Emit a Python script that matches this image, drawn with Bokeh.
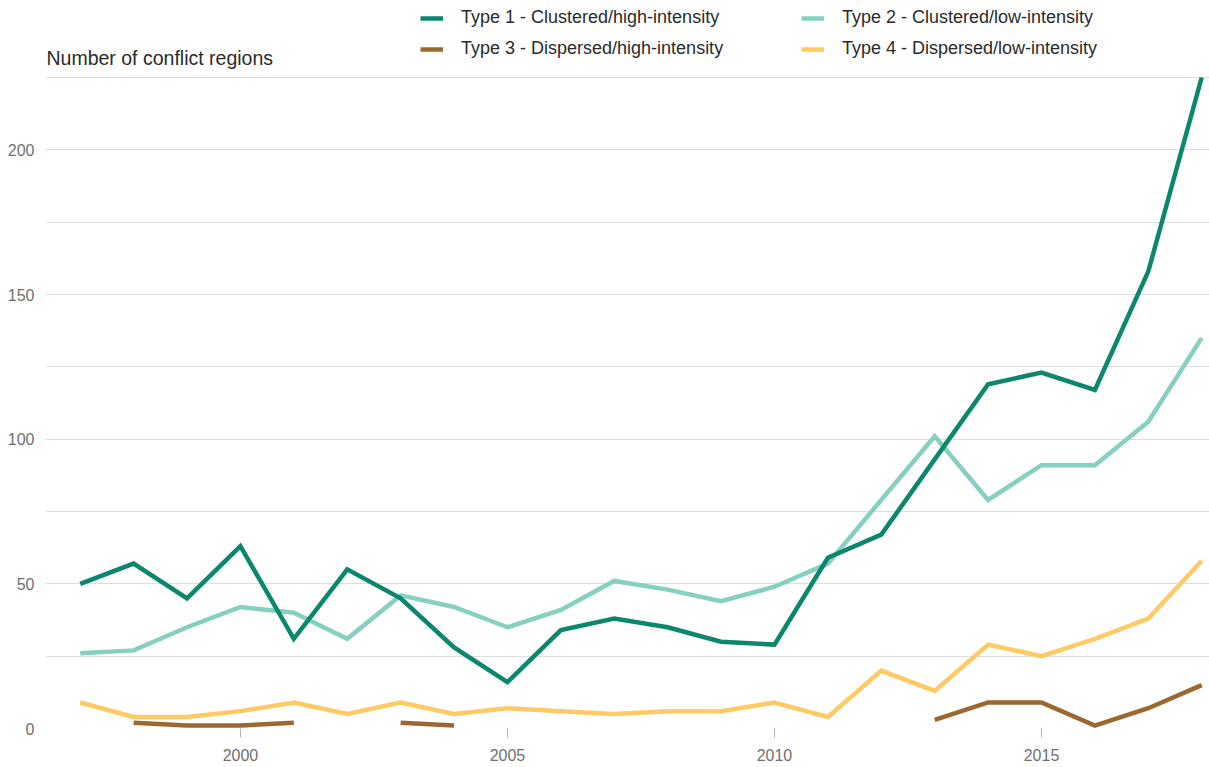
from bokeh.plotting import figure
from bokeh.models import Range1d, FixedTicker, Legend, LegendItem, Label
from bokeh.embed import file_html
from bokeh.resources import INLINE

nan = float("nan")

years = list(range(1997, 2019))
type1 = [50, 57, 45, 63, 31, 55, 45, 28, 16, 34, 38, 35, 30, 29, 59, 67, 93, 119, 123, 117, 158, 225]
type2 = [26, 27, 35, 42, 40, 31, 46, 42, 35, 41, 51, 48, 44, 49, 57, 79, 101, 79, 91, 91, 106, 135]
type3 = [nan, 2, 1, 1, 2, nan, 2, 1, nan, nan, nan, nan, nan, nan, nan, nan, 3, 9, 9, 1, 7, 15]
type4 = [9, 4, 4, 6, 9, 5, 9, 5, 7, 6, 5, 6, 6, 9, 4, 20, 13, 29, 25, 31, 38, 58]

names = ["Type 1 - Clustered/high-intensity", "Type 2 - Clustered/low-intensity",
         "Type 3 - Dispersed/high-intensity", "Type 4 - Dispersed/low-intensity"]
colors = ["#0a876c", "#86d0c0", "#9b682f", "#ffca64"]

x_ticks = [2000, 2005, 2010, 2015]
y_ticks = [0, 50, 100, 150, 200]
y_minor = [25, 75, 125, 175, 225]
y_top_value = 225

FONT = "Liberation Sans"

# frame: left 45, bottom 728, 225 at y=77, frame reaches top of canvas (room for legend/title)
X0, X1 = 1996.35, 2018.146
Y1 = y_top_value + 77 / (651 / 225)

p = figure(width=1209, height=767, x_range=Range1d(X0, X1), y_range=Range1d(0, Y1),
           output_backend="svg", toolbar_location=None,
           min_border_left=45, min_border_right=0, min_border_top=0, min_border_bottom=39)
p.outline_line_color = None
p.background_fill_color = "white"
p.border_fill_color = "white"

# axes
p.xaxis.ticker = FixedTicker(ticks=x_ticks)
p.xaxis.axis_line_color = None
p.xaxis.major_tick_line_color = "#b0b0b0"
p.xaxis.major_tick_in = 0
p.xaxis.major_tick_out = 9
p.xaxis.minor_tick_line_color = None
p.xaxis.major_label_standoff = 11
p.xaxis.major_label_text_font = FONT
p.xaxis.major_label_text_font_size = "16px"
p.xaxis.major_label_text_color = "#707070"

p.yaxis.ticker = FixedTicker(ticks=y_ticks, minor_ticks=y_minor)
p.yaxis.axis_line_color = None
p.yaxis.major_tick_line_color = None
p.yaxis.minor_tick_line_color = None
p.yaxis.major_label_standoff = 5
p.yaxis.major_label_text_font = FONT
p.yaxis.major_label_text_font_size = "16px"
p.yaxis.major_label_text_color = "#707070"

p.xgrid.grid_line_color = None
p.ygrid.grid_line_color = "#dedede"
p.ygrid.grid_line_width = 1
p.ygrid.minor_grid_line_color = "#dedede"
p.ygrid.minor_grid_line_width = 1

series = [type1, type2, type3, type4]
renderers = {}
for idx in [1, 3, 2, 0]:
    r = p.line(years, series[idx], line_color=colors[idx], line_width=4.5, line_join="miter")
    renderers[idx] = r

leg1 = Legend(items=[LegendItem(label=names[0], renderers=[renderers[0]]),
                     LegendItem(label=names[2], renderers=[renderers[2]])],
              location=(375, 669))
leg2 = Legend(items=[LegendItem(label=names[1], renderers=[renderers[1]]),
                     LegendItem(label=names[3], renderers=[renderers[3]])],
              location=(756, 669))
for lg in (leg1, leg2):
    lg.orientation = "vertical"
    lg.padding = 0
    lg.margin = 0
    lg.spacing = 10
    lg.label_height = 20
    lg.glyph_height = 20
    lg.glyph_width = 23
    lg.label_standoff = 18
    lg.border_line_color = None
    lg.background_fill_alpha = 0
    lg.label_text_font = FONT
    lg.label_text_font_size = "18px"
    lg.label_text_color = "#2b2b2b"
    lg.label_text_baseline = "middle"
    p.add_layout(lg, "center")

title = Label(x=X0, y=y_top_value, x_units="data", y_units="data", x_offset=1, y_offset=20,
              text="Number of conflict regions", text_font=FONT, text_font_size="19.5px",
              text_color="#2b2b2b", text_baseline="middle", text_align="left")
p.add_layout(title)

open("out.html", "w").write(file_html(p, INLINE))
